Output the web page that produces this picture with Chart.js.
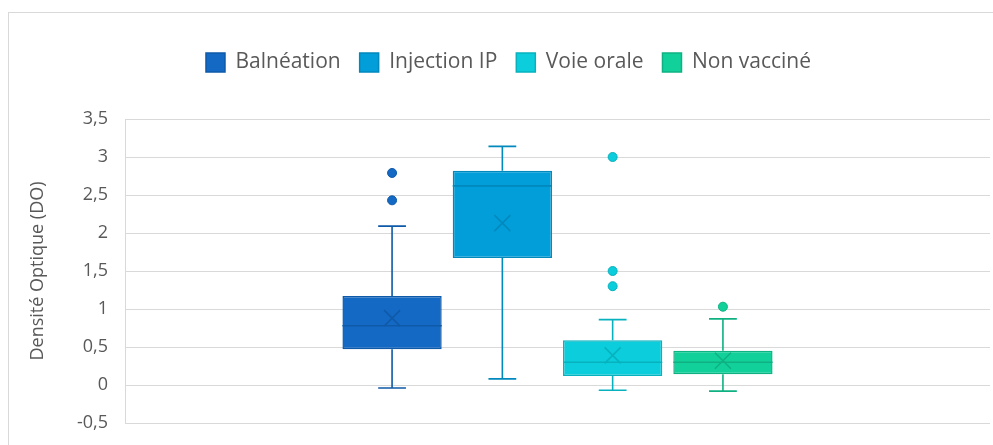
<!DOCTYPE html>
<html>
<head>
<meta charset="utf-8">
<script src="https://cdn.jsdelivr.net/npm/chart.js@4.4.1/dist/chart.umd.min.js"></script>
<style>
  html, body { margin: 0; padding: 0; background: #fff; overflow: hidden; }
  #frame {
    position: absolute; left: 8px; top: 12px;
    width: 1000px; height: 450px;
    border-top: 1px solid #d9d9d9; border-left: 1px solid #d9d9d9;
  }
  #graficoSaida { position: absolute; left: 0; top: 0; }
</style>
</head>
<body>
<div id="frame"><canvas id="graficoSaida" width="984" height="432"></canvas></div>
<script>
// groupes
const categories = ['Balnéation', 'Injection IP', 'Voie orale', 'Non vacciné'];
// quartiles, mediane, moyenne, moustaches
const q1 = [0.47, 1.67, 0.12, 0.14];
const q3 = [1.17, 2.82, 0.59, 0.45];
const medians = [0.78, 2.62, 0.30, 0.30];
const means = [0.88, 2.13, 0.39, 0.32];
const whiskerLow = [-0.04, 0.08, -0.07, -0.08];
const whiskerHigh = [2.09, 3.14, 0.86, 0.87];
// valeurs aberrantes
const outliers = [[2.79, 2.43], [], [3.0, 1.5, 1.3], [1.03]];
// graduations axe Y
const yTicks = [-0.5, 0, 0.5, 1, 1.5, 2, 2.5, 3, 3.5];

const fills = ['#1469c4', '#019ed9', '#0bcddb', '#12d09a'];
const borders = ['#0f5aa8', '#0188bc', '#07b2be', '#0fb182'];

const FONT = "'Open Sans', sans-serif";

// moustaches, mediane, moyenne, points
const boxPlot = {
  id: 'boxPlot',
  afterDatasetsDraw(chart) {
    const ctx = chart.ctx;
    const y = chart.scales.y;
    categories.forEach((c, i) => {
      const bar = chart.getDatasetMeta(i).data[0];
      if (!bar) return;
      const cx = bar.x;
      const half = bar.width / 2;
      const cap = bar.width * 0.14;
      ctx.save();
      ctx.strokeStyle = borders[i];
      ctx.lineWidth = 1.6;
      ctx.beginPath();
      ctx.moveTo(cx, y.getPixelForValue(q3[i]));
      ctx.lineTo(cx, y.getPixelForValue(whiskerHigh[i]));
      ctx.moveTo(cx - cap, y.getPixelForValue(whiskerHigh[i]));
      ctx.lineTo(cx + cap, y.getPixelForValue(whiskerHigh[i]));
      ctx.moveTo(cx, y.getPixelForValue(q1[i]));
      ctx.lineTo(cx, y.getPixelForValue(whiskerLow[i]));
      ctx.moveTo(cx - cap, y.getPixelForValue(whiskerLow[i]));
      ctx.lineTo(cx + cap, y.getPixelForValue(whiskerLow[i]));
      ctx.moveTo(cx - half, y.getPixelForValue(medians[i]));
      ctx.lineTo(cx + half, y.getPixelForValue(medians[i]));
      ctx.stroke();

      const my = y.getPixelForValue(means[i]);
      const r = 8;
      ctx.lineWidth = 1.5;
      ctx.beginPath();
      ctx.moveTo(cx - r, my - r); ctx.lineTo(cx + r, my + r);
      ctx.moveTo(cx + r, my - r); ctx.lineTo(cx - r, my + r);
      ctx.stroke();

      ctx.fillStyle = fills[i];
      ctx.lineWidth = 1;
      outliers[i].forEach(v => {
        ctx.beginPath();
        ctx.arc(cx, y.getPixelForValue(v), 4.5, 0, Math.PI * 2);
        ctx.fill();
        ctx.stroke();
      });
      ctx.restore();
    });
  }
};

// espace sous la legende
const legendSpace = {
  id: 'legendSpace',
  beforeInit(chart) {
    const fit = chart.legend.fit;
    chart.legend.fit = function () {
      fit.bind(chart.legend)();
      this.height = 86;
    };
  }
};

const ctx = document.getElementById('graficoSaida');

new Chart(ctx, {
  type: 'bar',
  data: {
    labels: [''],
    datasets: categories.map((c, i) => ({
      label: c,
      data: [[q1[i], q3[i]]],
      backgroundColor: fills[i],
      borderColor: borders[i],
      borderWidth: 1.5,
      borderSkipped: false,
      barPercentage: 0.9,
      categoryPercentage: 0.51
    }))
  },
  options: {
    responsive: false,
    animation: false,
    layout: { padding: { top: 20, right: 3, bottom: 22, left: 18 } },
    plugins: {
      legend: {
        position: 'top',
        labels: {
          boxWidth: 19, boxHeight: 19, padding: 19,
          color: '#595959',
          font: { family: FONT, size: 21 }
        }
      },
      tooltip: { enabled: false }
    },
    scales: {
      x: { display: false },
      y: {
        min: -0.5, max: 3.5,
        afterFit(s) { s.width = 98; s.paddingTop = 0; s.paddingBottom = 0; },
        afterBuildTicks(s) { s.ticks = yTicks.map(v => ({ value: v })); },
        border: { display: true, color: '#d9d9d9', width: 1 },
        grid: { color: '#d9d9d9', lineWidth: 1, drawTicks: false },
        ticks: {
          padding: 17,
          color: '#595959',
          font: { family: FONT, size: 18 },
          callback: v => String(v).replace('.', ',')
        },
        title: {
          display: true,
          text: 'Densité Optique (DO)',
          color: '#595959',
          font: { family: FONT, size: 18 },
          padding: { top: 0, bottom: 0 }
        }
      }
    }
  },
  plugins: [boxPlot, legendSpace]
});
</script>
</body>
</html>
